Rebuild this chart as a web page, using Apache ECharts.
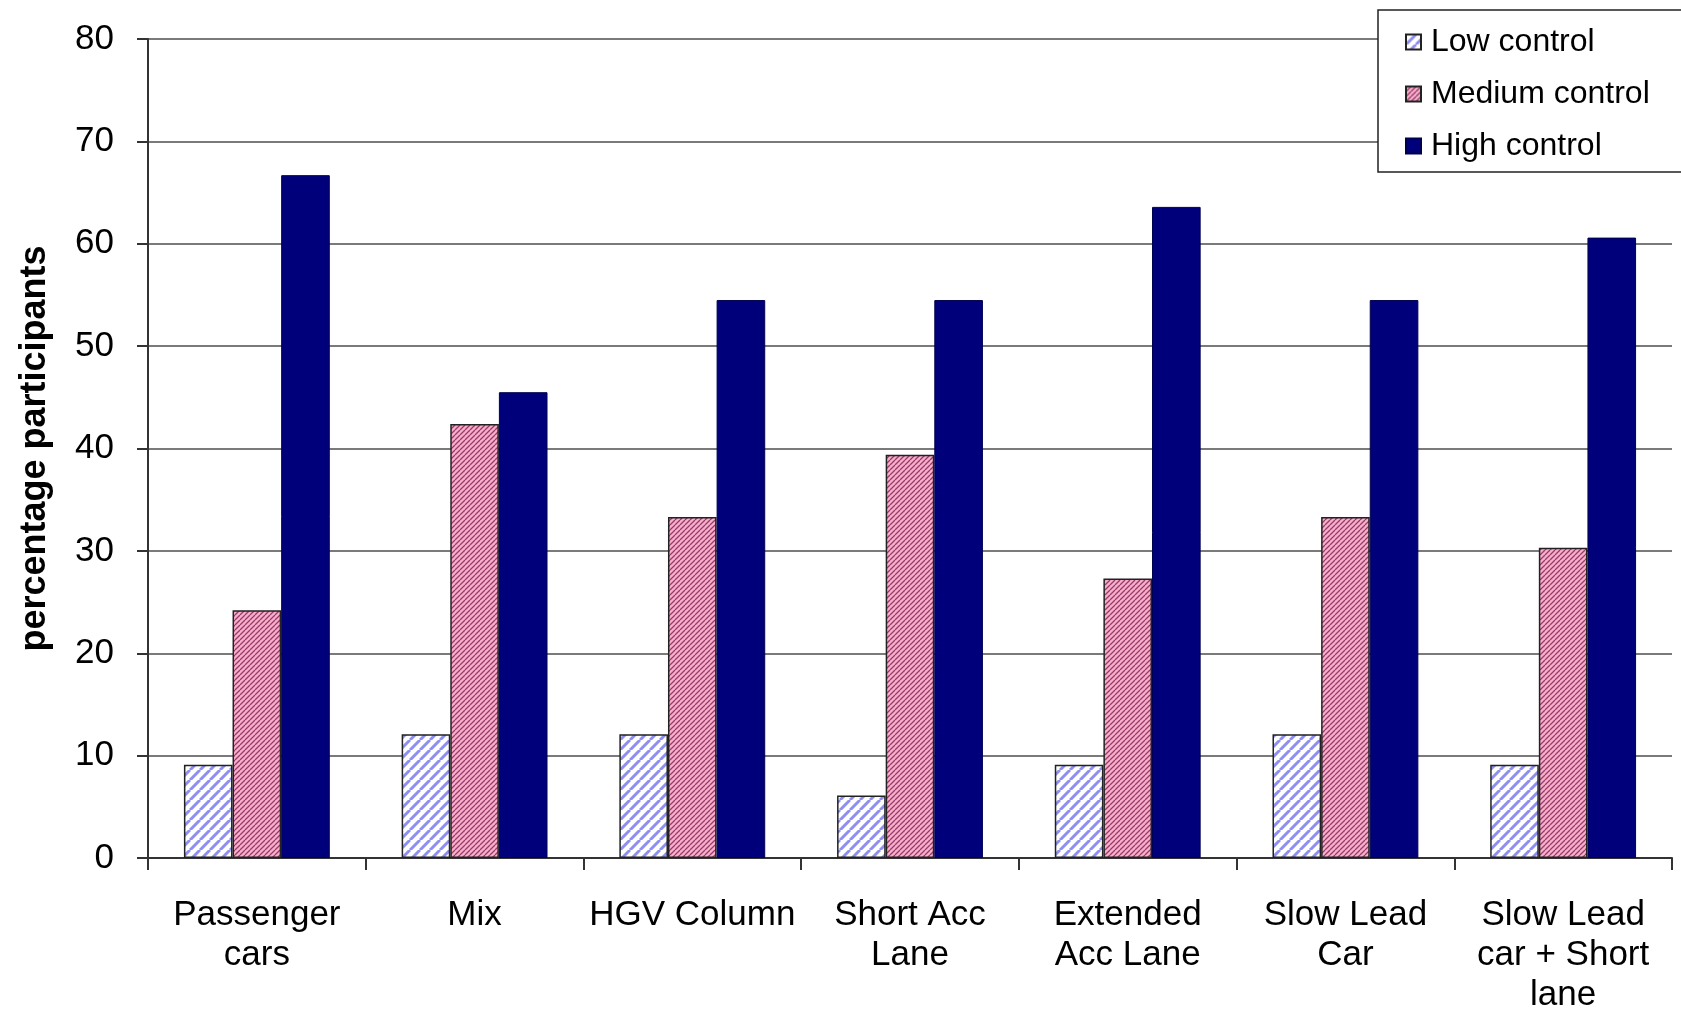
<!DOCTYPE html>
<html>
<head>
<meta charset="utf-8">
<script src="https://cdn.jsdelivr.net/npm/echarts@6/dist/echarts.min.js"></script>
<style>
html,body{margin:0;padding:0;background:#fff;}
#chart{width:1681px;height:1015px;}
</style>
</head>
<body>
<div id="chart"></div>
<script>
const categories = ['Passenger\ncars', 'Mix', 'HGV Column', 'Short Acc\nLane', 'Extended\nAcc Lane', 'Slow Lead\nCar', 'Slow Lead\ncar + Short\nlane'];
const lowControl = [9.1, 12.1, 12.1, 6.1, 9.1, 12.1, 9.1];
const mediumControl = [24.2, 42.4, 33.3, 39.4, 27.3, 33.3, 30.3];
const highControl = [66.7, 45.5, 54.5, 54.5, 63.6, 54.5, 60.6];
const seriesNames = ['Low control', 'Medium control', 'High control'];
const yTicks = [0, 10, 20, 30, 40, 50, 60, 70, 80];

function stripe(bg, fg, period, lw) {
  const c = document.createElement('canvas');
  c.width = period; c.height = period;
  const ctx = c.getContext('2d');
  ctx.fillStyle = bg; ctx.fillRect(0, 0, period, period);
  ctx.strokeStyle = fg; ctx.lineWidth = lw;
  ctx.beginPath();
  for (let k = -1; k <= 1; k++) {
    ctx.moveTo(k * period, period);
    ctx.lineTo(k * period + period, 0);
  }
  ctx.stroke();
  return c;
}
const lowPattern = { image: stripe('#ffffff', '#8f8ff0', 10, 3), repeat: 'repeat' };
const medPattern = { image: stripe('#f6b0cc', '#9a3a68', 5, 1.3), repeat: 'repeat' };

const chart = echarts.init(document.getElementById('chart'), null, { renderer: 'canvas' });
const font = 'Arial, "Liberation Sans", sans-serif';
chart.setOption({
  backgroundColor: '#ffffff',
  animation: false,
  textStyle: { fontFamily: font },
  grid: { left: 148, right: 9, top: 39, bottom: 157, containLabel: false },
  legend: {
    orient: 'vertical',
    left: 1378, top: 10,
    padding: [15, 40, 9, 27],
    itemGap: 18,
    itemWidth: 15, itemHeight: 15,
    icon: 'rect',
    backgroundColor: '#ffffff',
    borderColor: '#222',
    borderWidth: 1.5,
    borderRadius: 0,
    textStyle: { fontSize: 32, color: '#000', lineHeight: 34, padding: [0, 0, 0, 5], fontFamily: font },
    data: seriesNames
  },
  xAxis: {
    type: 'category',
    data: categories,
    axisLine: { lineStyle: { color: '#333', width: 2 } },
    axisTick: { show: true, length: 12, lineStyle: { color: '#333', width: 2 } },
    axisLabel: { interval: 0, fontSize: 35, color: '#000', lineHeight: 40, margin: 37, fontFamily: font }
  },
  yAxis: {
    type: 'value',
    min: 0, max: 80, interval: 10,
    name: 'percentage participants',
    nameLocation: 'middle',
    nameGap: 95,
    nameTextStyle: { fontSize: 36, fontWeight: 'bold', color: '#000', fontFamily: font },
    axisLine: { show: true, lineStyle: { color: '#333', width: 2 } },
    axisTick: { show: true, length: 11, lineStyle: { color: '#333', width: 2 } },
    axisLabel: { fontSize: 35, color: '#000', margin: 34, fontFamily: font,
      formatter: v => yTicks.includes(v) ? String(v) : '' },
    splitLine: { show: true, lineStyle: { color: '#7a7a7a', width: 2 } }
  },
  series: [
    { name: seriesNames[0], type: 'bar', data: lowControl, barGap: '0%', barCategoryGap: '33%',
      itemStyle: { color: lowPattern, borderColor: '#222', borderWidth: 1.5 } },
    { name: seriesNames[1], type: 'bar', data: mediumControl, barGap: '0%', barCategoryGap: '33%',
      itemStyle: { color: medPattern, borderColor: '#222', borderWidth: 1.5 } },
    { name: seriesNames[2], type: 'bar', data: highControl, barGap: '0%', barCategoryGap: '33%',
      itemStyle: { color: '#00007a', borderColor: '#000050', borderWidth: 1 } }
  ]
});
</script>
</body>
</html>
